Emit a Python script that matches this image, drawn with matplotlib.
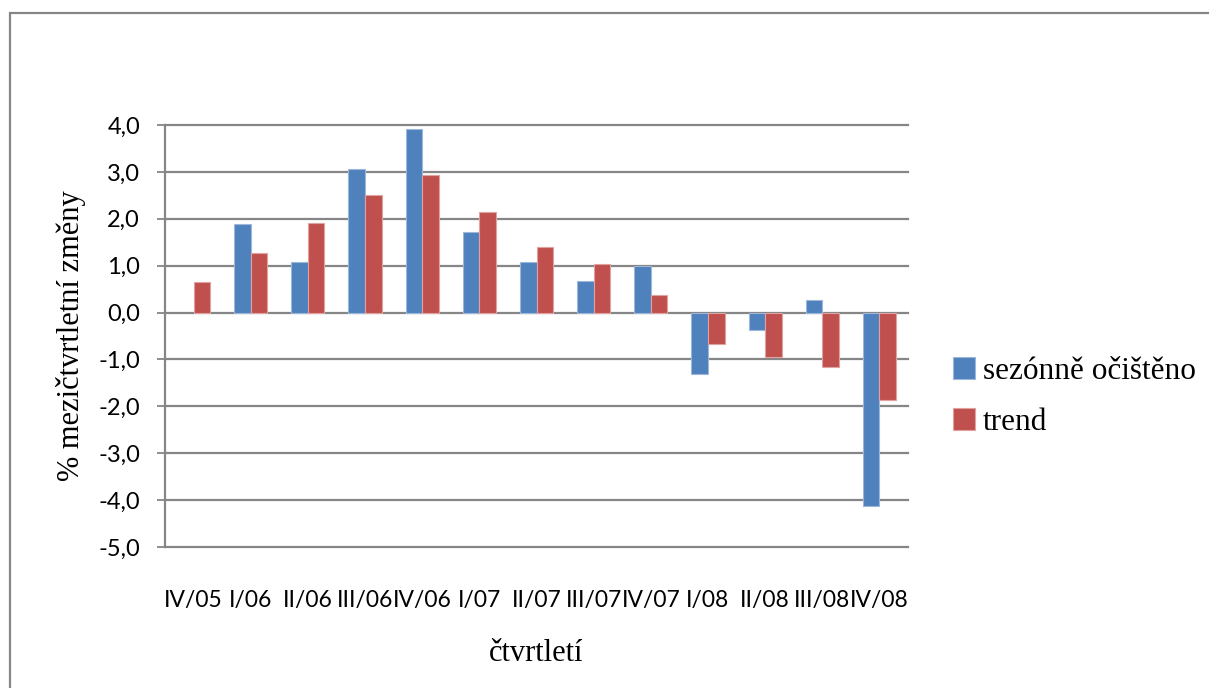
import numpy as np
import matplotlib
matplotlib.use("Agg")
from matplotlib import pyplot as plt
from matplotlib.patches import Rectangle

# data (no seasonal value for IV/05)
quarters = ["IV/05", "I/06", "II/06", "III/06", "IV/06", "I/07", "II/07",
            "III/07", "IV/07", "I/08", "II/08", "III/08", "IV/08"]
seasonal = [np.nan, 1.89, 1.07, 3.06, 3.91, 1.71, 1.07, 0.68, 0.99, -1.31, -0.38, 0.26, -4.12]
trend = [0.65, 1.27, 1.90, 2.51, 2.93, 2.14, 1.39, 1.03, 0.37, -0.67, -0.94, -1.17, -1.87]
yticks = [4, 3, 2, 1, 0, -1, -2, -3, -4, -5]

blue = "#4F81BD"
red = "#C0504D"
grey = "#868686"
tick_font = ["Lato", "DejaVu Sans"]
serif_font = ["Liberation Serif", "DejaVu Serif"]

fig = plt.figure(figsize=(12.09, 6.88), dpi=100)
ax = fig.add_axes([165 / 1209, 1 - 547 / 688, (908 - 165) / 1209, (547 - 125) / 688])

x = np.arange(len(quarters))
w = 0.29
ax.bar(x - w / 2, seasonal, w, color=blue, edgecolor="#9DB7DA", linewidth=0.8,
       label="sezónně očištěno", zorder=3)
ax.bar(x + w / 2, trend, w, color=red, edgecolor="#E0A3A1", linewidth=0.8,
       label="trend", zorder=3)

ax.set_xlim(-0.5, len(quarters) - 0.5)
ax.set_ylim(-5, 4)
ax.set_yticks(yticks)
ax.set_yticklabels([f"{v:.1f}".replace(".", ",") for v in yticks],
                   family=tick_font, fontsize=17)
ax.set_xticks(x)
ax.set_xticklabels(quarters, family=tick_font, fontsize=16.5)
ax.tick_params(axis="x", length=0, pad=31)
ax.tick_params(axis="y", length=6, width=1.3, color=grey, pad=12)

for v in yticks:
    ax.axhline(v, color=grey, linewidth=1.6, zorder=1, clip_on=False)

for s in ["top", "right", "bottom"]:
    ax.spines[s].set_visible(False)
ax.spines["left"].set_color(grey)
ax.spines["left"].set_linewidth(1.6)

ax.set_ylabel("% mezičtvrtletní změny", family=serif_font, fontsize=22, labelpad=9)
ax.set_xlabel("čtvrtletí", family=serif_font, fontsize=22, labelpad=20)

leg = fig.legend(loc="center left", bbox_to_anchor=(925 / 1209, 1 - 397 / 688),
                 frameon=False, prop={"family": serif_font, "size": 22.5},
                 handlelength=0.7, handleheight=0.7, handletextpad=0.25,
                 labelspacing=0.7)

# outer chart frame (runs off the right and bottom edges)
fig.patches.append(Rectangle((10 / 1209, -0.1), 1.2, 1 - 13 / 688 + 0.1,
                             transform=fig.transFigure, fill=False,
                             edgecolor=grey, linewidth=1.6))

plt.savefig("out.png", dpi=100)
